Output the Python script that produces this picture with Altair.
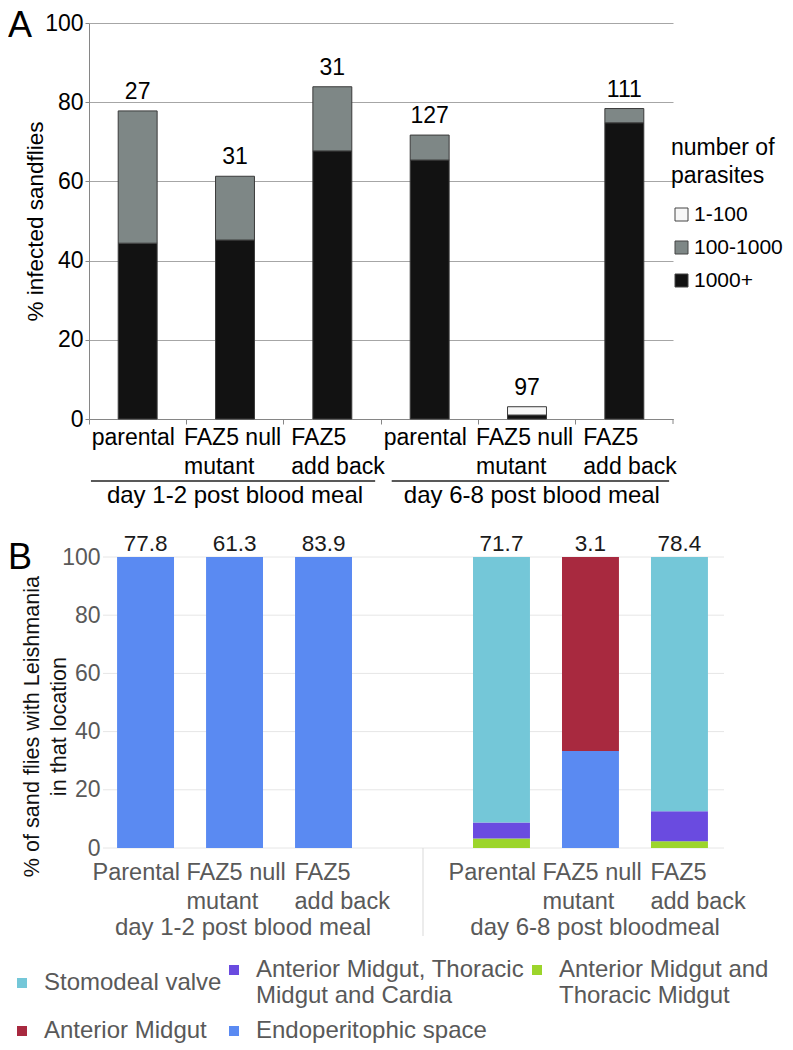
import json
import altair as alt
import pandas as pd

FONT = "Liberation Sans"

# ---------------- Panel A data ----------------
a_slots = ["A1", "A2", "A3", "A4", "A5", "A6"]
a_tick_labels = ["parental", "FAZ5 null|mutant", "FAZ5|add back",
                 "parental", "FAZ5 null|mutant", "FAZ5|add back"]
a_groups = ["day 1-2 post blood meal", "day 6-8 post blood meal"]
a_flies = [27, 31, 31, 127, 97, 111]
a_1000plus = [44.4, 45.2, 67.7, 65.4, 1.0, 74.8]
a_100_1000 = [33.4, 16.1, 16.2, 6.3, 0.0, 3.6]
a_1_100 = [0.0, 0.0, 0.0, 0.0, 2.1, 0.0]
a_classes = ["1-100", "100-1000", "1000+"]
a_colors = ["#f7f7f7", "#7e8786", "#121212"]

# ---------------- Panel B data ----------------
b_slots = ["B1", "B2", "B3", "gap", "B4", "B5", "B6"]
b_tick_labels = ["Parental", "FAZ5 null|mutant", "FAZ5|add back", "",
                 "Parental", "FAZ5 null|mutant", "FAZ5|add back"]
b_bar_slots = ["B1", "B2", "B3", "B4", "B5", "B6"]
b_groups = ["day 1-2 post blood meal", "day 6-8 post bloodmeal"]
b_infected = [77.8, 61.3, 83.9, 71.7, 3.1, 78.4]
b_locations = ["Stomodeal valve",
               "Anterior Midgut, Thoracic|Midgut and Cardia",
               "Anterior Midgut and|Thoracic Midgut",
               "Anterior Midgut",
               "Endoperitophic space"]
b_colors = ["#74c7d8", "#6a4be0", "#9cd52b", "#a8293f", "#5a8af2"]
b_stomodeal = [0, 0, 0, 91.2, 0, 87.4]
b_am_tm_cardia = [0, 0, 0, 5.5, 0, 10.3]
b_am_tm = [0, 0, 0, 3.3, 0, 2.3]
b_anterior = [0, 0, 0, 0, 66.7, 0]
b_endo = [100, 100, 100, 0, 33.3, 0]
b_ticks = [0, 20, 40, 60, 80, 100]

# ---------------- tables ----------------
rows_a = []
for i, s in enumerate(a_slots):
    for cls, vals, order in [("1000+", a_1000plus, 0), ("100-1000", a_100_1000, 1),
                             ("1-100", a_1_100, 2)]:
        if vals[i] > 0:
            rows_a.append({"slot": s, "cls": cls, "pct": vals[i], "order": order})
df_a = pd.DataFrame(rows_a)
df_a_tot = pd.DataFrame({
    "slot": a_slots,
    "flies": a_flies,
    "total": [round(a + b + c, 1) for a, b, c in zip(a_1000plus, a_100_1000, a_1_100)],
})

rows_b = []
series_b = [(b_locations[2], b_am_tm, 0), (b_locations[1], b_am_tm_cardia, 1),
            (b_locations[4], b_endo, 2), (b_locations[3], b_anterior, 3),
            (b_locations[0], b_stomodeal, 4)]
for i, s in enumerate(b_bar_slots):
    for loc, vals, order in series_b:
        if vals[i] > 0:
            rows_b.append({"slot": s, "loc": loc, "pct": vals[i], "order": order})
df_b = pd.DataFrame(rows_b)
df_b_tot = pd.DataFrame({"slot": b_bar_slots, "inf": b_infected})


def label_expr(slots, labels):
    return ("split(" + json.dumps(labels) + "[indexof(" + json.dumps(slots)
            + ", datum.value)], '|')")


def offset_rule(third, second, other):
    # left-aligned label blocks, shifted like the Excel category labels
    return {"condition": [
        {"test": "datum.value == '%s' || datum.value == '%s'" % third[0], "value": third[1]},
        {"test": "datum.value == '%s' || datum.value == '%s'" % second[0], "value": second[1]},
    ], "value": other}


# ---------------- Panel A ----------------
WA, HA = 584, 396
xa_scale = alt.Scale(domain=a_slots, paddingInner=0, paddingOuter=0)

bars_a = alt.Chart(df_a).mark_bar(
    width=alt.RelativeBandSize(0.4), stroke="#3a3a3a", strokeWidth=1
).encode(
    x=alt.X("slot:N", scale=xa_scale, sort=a_slots, title=None,
            axis=alt.Axis(bandPosition=0, labelAlign="left", labelBaseline="top",
                          labelOffset=offset_rule((("A3", "A6"), -41), (("A2", "A5"), -51), -46),
                          labelPadding=2, tickSize=5, tickColor="#868686",
                          domainColor="#868686", labelFontSize=23, labelColor="#000000",
                          labelLineHeight=29, labelExpr=label_expr(a_slots, a_tick_labels),
                          labelLimit=300, labelOverlap=False, labelAngle=0, grid=False)),
    y=alt.Y("pct:Q", stack="zero", scale=alt.Scale(domain=[0, 100], nice=False),
            axis=alt.Axis(title="% infected sandflies", values=list(range(0, 101, 10)),
                          labelExpr="datum.value % 20 == 0 ? datum.label : ''",
                          tickSize=4, tickColor="#868686", domainColor="#868686",
                          gridColor="#a6a6a6", labelFontSize=23, labelColor="#000000",
                          labelPadding=2, titleFontSize=22.5, titleFontWeight="normal",
                          titleColor="#000000", titlePadding=-3)),
    color=alt.Color("cls:N", scale=alt.Scale(domain=a_classes, range=a_colors),
                    legend=alt.Legend(title=["number of", "parasites"], orient="none",
                                      legendX=582, legendY=114, symbolType="square",
                                      symbolSize=169, symbolStrokeColor="#444444",
                                      symbolStrokeWidth=1, symbolOpacity=1,
                                      labelFontSize=21, labelColor="#000000",
                                      titleFontSize=23, titleFontWeight="normal",
                                      titleColor="#000000", titleLineHeight=28,
                                      titlePadding=16, rowPadding=11, labelOffset=2,
                                      padding=0, labelLimit=300, titleLimit=300)),
    order=alt.Order("order:Q", sort="ascending"),
)

counts_a = alt.Chart(df_a_tot).mark_text(
    fontSize=23, baseline="alphabetic", dy=-12, color="#000000"
).encode(
    x=alt.X("slot:N", scale=xa_scale, sort=a_slots),
    y=alt.Y("total:Q"),
    text=alt.Text("flies:Q"),
)

qa = alt.Scale(domain=[0, 6], nice=False, zero=False)
lines_a = alt.Chart(pd.DataFrame({"x0": [0.02, 3.11], "x1": [2.94, 5.96]})).mark_rule(
    color="#222222", strokeWidth=1.3
).encode(x=alt.X("x0:Q", scale=qa, axis=None), x2="x1:Q", y=alt.value(HA + 62))

groups_a = alt.Chart(pd.DataFrame({"gx": [1.5, 4.55], "g": a_groups})).mark_text(
    fontSize=24, baseline="alphabetic", align="center", color="#000000"
).encode(x=alt.X("gx:Q", scale=qa, axis=None), y=alt.value(HA + 83.5), text="g:N")

endtick_a = alt.Chart(pd.DataFrame({"tx": [6]})).mark_rule(color="#868686").encode(
    x=alt.X("tx:Q", scale=qa, axis=None), y=alt.value(HA), y2=alt.value(HA + 5))

letter_a = alt.Chart(pd.DataFrame({"t": ["A"]})).mark_text(
    fontSize=36, align="left", baseline="alphabetic", color="#000000"
).encode(x=alt.value(-81), y=alt.value(14), text="t:N")

chart_a = alt.layer(
    alt.layer(bars_a, counts_a),
    alt.layer(lines_a, groups_a, endtick_a),
    letter_a,
).resolve_scale(x="independent").properties(width=WA, height=HA)

# ---------------- Panel B ----------------
WB, HB = 635, 291
xb_scale = alt.Scale(domain=b_slots, paddingInner=0.36, paddingOuter=0.248, align=0.636)
qb = alt.Scale(domain=[0, 1], nice=False, zero=False)

grid_b = alt.Chart(pd.DataFrame({"v": b_ticks, "g0": 0.022, "g1": 1.0})).mark_rule(
    color="#e6e6e6", strokeWidth=1
).encode(x=alt.X("g0:Q", scale=qb, axis=None), x2="g1:Q", y=alt.Y("v:Q"))

sep_b = alt.Chart(pd.DataFrame({"sx": [0.526]})).mark_rule(color="#d9d9d9").encode(
    x=alt.X("sx:Q", scale=qb, axis=None), y=alt.value(HB), y2=alt.value(379))

groups_b = alt.Chart(pd.DataFrame({"gx": [0.2425, 0.797], "g": b_groups})).mark_text(
    fontSize=24, baseline="alphabetic", align="center", color="#595959"
).encode(x=alt.X("gx:Q", scale=qb, axis=None), y=alt.value(378), text="g:N")

bars_b = alt.Chart(df_b).mark_bar().encode(
    x=alt.X("slot:N", scale=xb_scale, sort=b_slots, title=None,
            axis=alt.Axis(labelAlign="left", labelBaseline="top",
                          labelOffset=offset_rule((("B3", "B6"), -29), (("B2", "B5"), -48), -53),
                          labelPadding=12, ticks=False, tickSize=0, domain=False,
                          labelFontSize=23.5, labelColor="#595959", labelLineHeight=29,
                          labelExpr=label_expr(b_slots, b_tick_labels), labelLimit=300,
                          labelOverlap=False, labelAngle=0, grid=False)),
    y=alt.Y("pct:Q", stack="zero", scale=alt.Scale(domain=[0, 100], nice=False),
            axis=alt.Axis(title=["% of sand flies with Leishmania", "in that location"],
                          values=b_ticks, ticks=False, domain=False, grid=False,
                          offset=-14, labelFontSize=23, labelColor="#595959",
                          labelPadding=3, titleFontSize=21.6, titleFontWeight="normal",
                          titleColor="#111111", titleLineHeight=27,
                          titleX=-60, titleY=169)),
    color=alt.Color("loc:N", scale=alt.Scale(domain=b_locations, range=b_colors),
                    legend=alt.Legend(title=None, orient="none", legendX=-79, legendY=401,
                                      direction="horizontal", columns=3,
                                      symbolType="square", symbolSize=100,
                                      symbolOpacity=1, labelFontSize=24,
                                      labelColor="#595959",
                                      labelLimit=400, columnPadding=0, rowPadding=11,
                                      labelOffset=10, padding=0,
                                      labelExpr="split(datum.label, '|')")),
    order=alt.Order("order:Q", sort="ascending"),
)

values_b = alt.Chart(df_b_tot).mark_text(
    fontSize=22.5, baseline="alphabetic", dy=-6, color="#1a1a1a"
).encode(
    x=alt.X("slot:N", scale=xb_scale, sort=b_slots),
    y=alt.datum(100),
    text=alt.Text("inf:Q", format=".1f"),
)

letter_b = alt.Chart(pd.DataFrame({"t": ["B"]})).mark_text(
    fontSize=36, align="left", baseline="alphabetic", color="#000000"
).encode(x=alt.value(-81), y=alt.value(12), text="t:N")

chart_b = alt.layer(
    alt.layer(grid_b, sep_b, groups_b),
    alt.layer(bars_b, values_b),
    letter_b,
).resolve_scale(x="independent").properties(width=WB, height=HB)

chart = alt.concat(chart_a, chart_b, columns=1, spacing=25).resolve_scale(
    color="independent"
).properties(padding=0).configure(font=FONT).configure_view(stroke=None)

chart.save("out.html", embed_options={"renderer": "svg", "actions": False})
